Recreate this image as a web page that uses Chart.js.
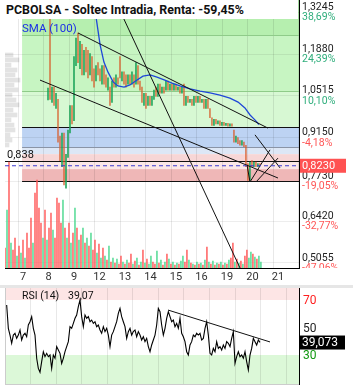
<!DOCTYPE html>
<html>
<head>
<meta charset="utf-8">
<script src="https://cdn.jsdelivr.net/npm/chart.js@4.4.1/dist/chart.umd.min.js"></script>
<style>
  body { margin: 0; background: #fff; font-family: Roboto, sans-serif; }
  #wrap { position: relative; width: 353px; height: 390px; overflow: hidden; }
  canvas { position: absolute; }
  #title { position: absolute; left: 0; top: 0; width: 298px; height: 19px; background: #fff;
           font: bold 12.4px Roboto, sans-serif; line-height: 20px; padding-left: 6px; box-sizing: border-box; color: #111; }
  #sep { position: absolute; left: 0; top: 285px; width: 353px; height: 3px; background: #e6e6e6; }
</style>
</head>
<body>
<div id="wrap">
  <canvas id="profile" width="17" height="268" style="left:5px;top:0"></canvas>
  <canvas id="main" width="353" height="285" style="left:0;top:0"></canvas>
  <div id="title">PCBOLSA - Soltec Intradia, Renta: -59,45%</div>
  <div id="sep"></div>
  <canvas id="rsi" width="353" height="102" style="left:0;top:288px"></canvas>
</div>
<script>
// x axis: trading days (index 0 = day 7)
const dayLabels = ['7', '8', '9', '12', '13', '14', '15', '16', '19', '20', '21'];
const dayTicks = [-1, 0, 1, 2, 3, 4, 5, 6, 7, 8, 9, 10];

// price axis labels
const tickPrices = [1.3245, 1.1880, 1.0515, 0.9150, 0.7730, 0.6420, 0.5055];
const tickPriceText = ['1,3245', '1,1880', '1,0515', '0,9150', '0,7730', '0,6420', '0,5055'];
const tickPctText = ['38,69%', '24,39%', '10,10%', '-4,18%', '-19,05%', '-32,77%', '-47,06%'];
const lastPrice = 0.823;
const lastPriceText = '0,8230';

// intraday bars, one every 2 px (day units)
const priceStart = 0.667, priceStep = 0.0784;
const opens = [1.038, 1.40, 1.030, 1.080, 1.010, 1.040, 0.920, 0.820, 0.930, 0.750,
  0.850, 0.930, 1.020, 0.970, 1.150, 1.257, 1.140, 1.220, 1.120, 1.210,
  1.200, 1.120, 1.180, 1.140, 1.100, 1.160, 1.140, 1.090, 1.150, 1.120,
  1.070, 1.080, 1.030, 1.110, 1.080, 1.110, 1.180, 1.100, 1.130, 1.120,
  1.090, 1.120, 1.090, 1.120, 1.090, 1.150, 1.100, 1.080, 1.020, 1.060,
  1.020, 1.050, 1.020, 1.040, 1.080, 1.050, 1.090, 1.060, 1.080, 1.070,
  1.100, 1.070, 1.090, 1.070, 1.090, 1.070, 1.080, 1.060, 1.090, 1.020,
  1.050, 1.030, 1.040, 1.020, 1.050, 1.030, 1.050, 1.030, 1.040, 1.010,
  1.040, 1.010, 0.980, 0.955, 0.975, 0.960, 0.970, 0.955, 0.965, 0.955,
  0.962, 0.952, 0.960, 0.940, 0.900, 0.915, 0.905, 0.890, 0.900, 0.890,
  0.830, 0.775, 0.840, 0.820, 0.835, 0.820, 0.830];
const closes = [1.077, 1.040, 1.080, 1.020, 1.060, 0.900, 0.840, 0.930, 0.760, 0.860,
  0.940, 1.020, 0.960, 1.180, 1.240, 1.160, 1.230, 1.120, 1.200, 1.130,
  1.110, 1.190, 1.100, 1.080, 1.150, 1.120, 1.100, 1.150, 1.090, 1.080,
  1.110, 1.020, 1.100, 1.080, 1.120, 1.090, 1.110, 1.130, 1.090, 1.080,
  1.120, 1.090, 1.130, 1.080, 1.160, 1.090, 1.070, 1.030, 1.060, 1.010,
  1.050, 1.020, 1.050, 1.070, 1.050, 1.090, 1.060, 1.080, 1.060, 1.100,
  1.070, 1.090, 1.070, 1.090, 1.070, 1.080, 1.060, 1.080, 1.020, 1.050,
  1.030, 1.040, 1.020, 1.050, 1.030, 1.050, 1.030, 1.040, 1.010, 1.040,
  1.010, 0.980, 0.955, 0.975, 0.960, 0.970, 0.955, 0.965, 0.955, 0.962,
  0.952, 0.960, 0.952, 0.900, 0.920, 0.895, 0.890, 0.905, 0.885, 0.820,
  0.775, 0.835, 0.820, 0.835, 0.820, 0.830, 0.823];

// SMA(100)
const smaDays = [2.43, 2.51, 2.71, 2.86, 3.02, 3.22, 3.41, 3.65, 3.88, 4.16, 4.39, 4.67, 4.94,
  5.25, 5.53, 5.84, 6.24, 6.63, 7.02, 7.41, 7.80, 8.12, 8.39, 8.59, 8.78, 8.94];
const smaVals = [1.38, 1.332, 1.218, 1.162, 1.129, 1.097, 1.084, 1.080, 1.087, 1.103, 1.116, 1.120, 1.113,
  1.103, 1.093, 1.084, 1.074, 1.067, 1.061, 1.054, 1.044, 1.031, 1.012, 0.989, 0.973, 0.958];

// volume, one bar every 2 px
const volStart = -1.0196, volStep = 0.0784;
const volumes = [20, 58, 106, 25, 18, 30, 12, 22, 15, 28,
  10, 35, 20, 50, 25, 75, 88, 60, 45, 30,
  58, 28, 40, 55, 38, 30, 70, 65, 45, 68,
  40, 30, 45, 25, 35, 60, 40, 28, 33, 40,
  25, 30, 22, 35, 18, 28, 15, 24, 10, 20,
  12, 8, 22, 6, 10, 5, 9, 4, 12, 6,
  4, 8, 5, 14, 4, 7, 10, 3, 6, 18,
  5, 9, 4, 12, 6, 4, 17, 5, 8, 3,
  6, 14, 9, 4, 6, 3, 5, 4, 7, 12,
  6, 18, 8, 5, 4, 3, 6, 4, 5, 3,
  8, 21, 6, 4, 7, 3, 5, 4, 6, 3,
  5, 4, 8, 10, 25, 6, 9, 5, 7, 4,
  12, 18, 10, 16, 14, 11, 9, 12, 6];
const volSide = ('rgrgrrgrgr grrrgrrrrg rgrrgrrrrg rgrgrgrgrg rgrgrrgrgr grgrgrgrrg ' +
  'rgrrgrgrgr grggrrgrgr grgrgrgrgg rrgrgrgrgr grgrgrgrgr grgrrgrgrg rrggrgrgg').replace(/ /g, '');

// volume by price profile (left edge)
const profPrices = [1.185, 1.169, 1.152, 1.136, 1.120, 1.103, 1.087, 1.071, 1.054, 1.038,
  1.022, 1.005, 0.989, 0.973, 0.956, 0.940, 0.924, 0.907, 0.891];
const profVol = [8, 14, 6, 12, 10, 15, 9, 13, 7, 11, 14, 8, 12, 6, 9, 10, 5, 7, 4];

// support / resistance levels and zones
const bandEdges = [1.40, 1.250, 1.067, 0.950, 0.884, 0.861, 0.838, 0.812, 0.773];
const levelPrices = [1.250, 1.067, 0.950, 0.884, 0.838, 0.773];

// trend lines [day, price]
const trendLines = [
  [[1.843, 1.257], [9.294, 0.946]],
  [[0.353, 1.103], [9.686, 0.783]],
  [[3.294, 1.365], [8.196, 0.489]],
  [[8.471, 0.826], [8.588, 0.770]],
  [[8.588, 0.770], [9.373, 0.875]],
  [[8.824, 0.770], [9.686, 0.848]],
  [[8.784, 0.924], [9.765, 0.816]]
];

// RSI(14), one point every 1.67 px
const rsiStart = -0.9542, rsiStep = 0.06536;
const rsiVals = [66.4, 49.4, 44.5, 38.5, 44.5, 45.8, 42.1, 44.5, 48.2, 40.9,
  44.5, 45.8, 43.3, 51.8, 54.2, 57.9, 49.4, 44.5, 27.6, 20.3,
  17.4, 25.2, 32.4, 28.8, 31.2, 28.8, 30.0, 20.3, 30.0, 27.6,
  36.1, 33.6, 31.2, 23.9, 27.6, 32.4, 36.1, 39.7, 50.6, 49.4,
  53.0, 56.7, 59.1, 65.1, 70.0, 57.9, 50.6, 59.1, 56.7, 57.9,
  54.2, 55.4, 53.0, 54.2, 50.6, 51.8, 48.2, 45.8, 50.6, 47.0,
  49.4, 44.5, 36.1, 44.5, 47.0, 50.6, 54.2, 60.3, 63.9, 57.9,
  54.2, 50.6, 42.1, 47.0, 49.4, 44.5, 47.0, 48.2, 43.3, 47.0,
  44.5, 40.9, 43.3, 39.7, 42.1, 36.1, 32.4, 37.3, 40.9, 44.5,
  51.8, 63.9, 61.5, 51.8, 44.5, 49.4, 56.7, 61.5, 57.9, 54.2,
  55.4, 50.6, 53.0, 49.4, 56.7, 45.8, 43.3, 39.7, 32.4, 30.0,
  37.3, 39.7, 44.5, 43.3, 45.8, 44.5, 45.8, 40.9, 42.1, 49.4,
  54.2, 44.5, 31.2, 30.0, 34.8, 32.4, 39.7, 34.8, 36.1, 33.6,
  37.3, 34.8, 39.7, 38.5, 36.1, 42.1, 47.0, 23.9, 28.8, 32.4,
  28.8, 30.0, 27.6, 32.4, 25.2, 19.1, 30.0, 34.8, 42.1, 39.7,
  37.3, 40.9, 39.2];
const rsiTrend = [[5.373, 62.7], [9.373, 39.5]];
const rsiLast = 39.073;
const rsiLevels = [70, 50, 30];

// ---- layout / style ----
const PMIN = 0.4889, PMAX = 1.3647, DMIN = -1.0196, DMAX = 10.5098;
const RMIN = 8.91, RMAX = 78.73;
const bandStartDay = -0.35;
const bandColors = ['#b6efaf', '#c7f5c2', '#d7f8d3', '#bdd3f3', '#dde7f6', '#f7d6d6', '#fbe7e7', '#efb7b7'];
const levelColors = ['#8fcb89', '#8fcb89', '#111', '#8a94a6', '#111', '#111'];
const FONT = 'Roboto, sans-serif';

const candleData = opens.map((o, i) => ({ x: priceStart + i * priceStep, y: [o, closes[i]] }));
const volData = volumes.map((v, i) => ({ x: volStart + i * volStep, y: v }));
const rsiData = rsiVals.map((v, i) => ({ x: rsiStart + i * rsiStep, y: v }));
const smaData = smaDays.map((d, i) => ({ x: d, y: smaVals[i] }));

const dayAxisTicks = s => { s.ticks = dayTicks.map(v => ({ value: v })); };

const mainDecor = {
  id: 'mainDecor',
  beforeDraw(chart) {
    const { ctx, chartArea: a, scales: { x, y } } = chart;
    const x0 = x.getPixelForValue(bandStartDay);
    ctx.save();
    for (let i = 0; i < bandColors.length; i++) {
      const top = Math.max(a.top, y.getPixelForValue(bandEdges[i]));
      const bot = y.getPixelForValue(bandEdges[i + 1]);
      ctx.fillStyle = bandColors[i];
      ctx.fillRect(x0, top, a.right - x0, bot - top);
    }
    ctx.restore();
  },
  beforeDatasetsDraw(chart) {
    const { ctx, chartArea: a, scales: { x, y } } = chart;
    const x0 = x.getPixelForValue(bandStartDay);
    ctx.save();
    levelPrices.forEach((p, i) => {
      const py = Math.round(y.getPixelForValue(p)) + 0.5;
      ctx.strokeStyle = levelColors[i];
      ctx.lineWidth = 1;
      ctx.beginPath();
      ctx.moveTo(p === 0.838 ? a.left : x0, py);
      ctx.lineTo(a.right, py);
      ctx.stroke();
    });
    ctx.restore();
  },
  afterDraw(chart) {
    const { ctx, chartArea: a, scales: { y } } = chart;
    ctx.save();
    ctx.beginPath();
    ctx.rect(a.right + 1, 0, 60, a.bottom);
    ctx.clip();
    ctx.font = '10.5px ' + FONT;
    ctx.textBaseline = 'middle';
    ctx.textAlign = 'left';
    tickPrices.forEach((p, i) => {
      const py = y.getPixelForValue(p);
      ctx.fillStyle = '#222';
      ctx.fillText(tickPriceText[i], a.right + 3, py - 5);
      ctx.fillStyle = tickPctText[i][0] === '-' ? '#ff5555' : '#2fae7c';
      ctx.fillText(tickPctText[i], a.right + 3, py + 5.5);
    });
    const cy = y.getPixelForValue(lastPrice);
    ctx.fillStyle = '#ff5252';
    ctx.fillRect(a.right, cy - 7, 47, 14);
    ctx.fillStyle = '#fff';
    ctx.font = '11px ' + FONT;
    ctx.fillText(lastPriceText, a.right + 3, cy + 0.5);
    ctx.restore();

    ctx.save();
    ctx.font = '11px ' + FONT;
    ctx.textBaseline = 'middle';
    ctx.fillStyle = '#111';
    ctx.fillText('0,838', 7, y.getPixelForValue(0.838) - 6);
    ctx.fillStyle = '#1c2fe6';
    ctx.font = '11.5px ' + FONT;
    ctx.fillText('SMA (100)', 22, 29);
    ctx.restore();
  }
};

new Chart(document.getElementById('profile'), {
  type: 'bar',
  data: { datasets: [{ data: profPrices.map((p, i) => ({ x: profVol[i], y: p })), backgroundColor: '#e3e3e3', barThickness: 4 }] },
  options: {
    indexAxis: 'y', responsive: false, animation: false,
    plugins: { legend: { display: false }, tooltip: { enabled: false } },
    scales: {
      x: { type: 'linear', display: false, min: 0, max: 17 },
      y: { type: 'linear', display: false, min: PMIN, max: PMAX, offset: false }
    }
  }
});

const lineDs = (data, color, width, order, dash) => ({
  type: 'line', data, borderColor: color, borderWidth: width, pointRadius: 0,
  tension: 0, fill: false, order, borderDash: dash || []
});

new Chart(document.getElementById('main'), {
  type: 'bar',
  data: {
    datasets: [
      { data: volData, yAxisID: 'yv', grouped: false, barThickness: 1, order: 6,
        backgroundColor: c => volSide[c.dataIndex] === 'g' ? 'rgba(70,215,140,0.85)' : 'rgba(255,85,85,0.85)' },
      { data: candleData, grouped: false, barThickness: 1.1, order: 5,
        backgroundColor: c => closes[c.dataIndex] >= opens[c.dataIndex] ? 'rgba(30,165,90,0.9)' : 'rgba(215,95,45,0.75)' },
      lineDs(smaData, '#1f47d8', 1.3, 4),
      ...trendLines.map(l => lineDs(l.map(p => ({ x: p[0], y: p[1] })), '#111', 1, 3)),
      lineDs([{ x: DMIN, y: lastPrice }, { x: DMAX, y: lastPrice }], '#3a3ad0', 1, 2, [4, 3])
    ]
  },
  options: {
    responsive: false, animation: false,
    layout: { padding: { left: 5, top: 0, right: 0, bottom: 0 } },
    plugins: { legend: { display: false }, tooltip: { enabled: false } },
    scales: {
      x: {
        type: 'linear', min: DMIN, max: DMAX, offset: false,
        afterBuildTicks: dayAxisTicks,
        afterFit: s => { s.height = 17; },
        grid: { color: 'rgba(0,0,0,0.09)', drawTicks: false },
        border: { color: '#000' },
        ticks: {
          autoSkip: false, maxRotation: 0, padding: 3, labelOffset: -8, color: '#333',
          font: { family: FONT, size: 11 },
          callback: v => v >= 0 ? dayLabels[v] : ''
        }
      },
      y: {
        type: 'linear', position: 'right', min: PMIN, max: PMAX,
        afterBuildTicks: s => { s.ticks = tickPrices.map(v => ({ value: v })); },
        afterFit: s => { s.width = 54; },
        grid: { color: 'rgba(0,0,0,0.07)', drawTicks: false },
        border: { color: '#000' },
        ticks: { display: false }
      },
      yv: { type: 'linear', display: false, min: 0, max: 268 }
    }
  },
  plugins: [mainDecor]
});

const rsiDecor = {
  id: 'rsiDecor',
  beforeDraw(chart) {
    const { ctx, chartArea: a, scales: { y } } = chart;
    ctx.save();
    ctx.fillStyle = '#fde5e5';
    ctx.fillRect(a.left, a.top, a.right - a.left, y.getPixelForValue(70) - a.top);
    ctx.fillStyle = '#dcf8d8';
    const y30 = y.getPixelForValue(30);
    ctx.fillRect(a.left, y30, a.right - a.left, a.bottom - y30);
    ctx.restore();
  },
  afterDraw(chart) {
    const { ctx, chartArea: a, scales: { y } } = chart;
    ctx.save();
    ctx.strokeStyle = '#ccc';
    ctx.beginPath();
    ctx.moveTo(a.left, a.bottom + 0.5);
    ctx.lineTo(a.right, a.bottom + 0.5);
    ctx.moveTo(a.left + 0.5, a.top);
    ctx.lineTo(a.left + 0.5, a.bottom);
    ctx.stroke();
    ctx.textBaseline = 'middle';
    ctx.font = '12px ' + FONT;
    const cols = ['#ff1f1f', '#222', '#119911'];
    rsiLevels.forEach((v, i) => {
      ctx.fillStyle = cols[i];
      ctx.fillText(String(v), a.right + 4, y.getPixelForValue(v) + 1);
    });
    const ly = y.getPixelForValue(rsiLast);
    ctx.fillStyle = '#000';
    ctx.fillRect(a.right, ly - 7, 46, 14);
    ctx.fillStyle = '#fff';
    ctx.fillText('39,073', a.right + 3, ly + 0.5);
    ctx.fillStyle = '#111';
    ctx.font = '10.5px ' + FONT;
    ctx.fillText('RSI (14)', 22, a.top + 8);
    ctx.fillText('39,07', 68, a.top + 8);
    ctx.restore();
  }
};

new Chart(document.getElementById('rsi'), {
  type: 'line',
  data: {
    datasets: [
      lineDs(rsiData, '#000', 1.1, 2),
      lineDs(rsiTrend.map(p => ({ x: p[0], y: p[1] })), '#111', 1, 1)
    ]
  },
  options: {
    responsive: false, animation: false,
    layout: { padding: { left: 5 } },
    plugins: { legend: { display: false }, tooltip: { enabled: false } },
    scales: {
      x: {
        type: 'linear', min: DMIN, max: DMAX,
        afterBuildTicks: dayAxisTicks,
        afterFit: s => { s.height = 6; },
        grid: { color: 'rgba(0,0,0,0.09)', drawTicks: false },
        border: { display: false },
        ticks: { display: false }
      },
      y: {
        type: 'linear', position: 'right', min: RMIN, max: RMAX,
        afterFit: s => { s.width = 54; },
        grid: { display: false },
        border: { color: '#000' },
        ticks: { display: false }
      }
    }
  },
  plugins: [rsiDecor]
});
</script>
</body>
</html>
